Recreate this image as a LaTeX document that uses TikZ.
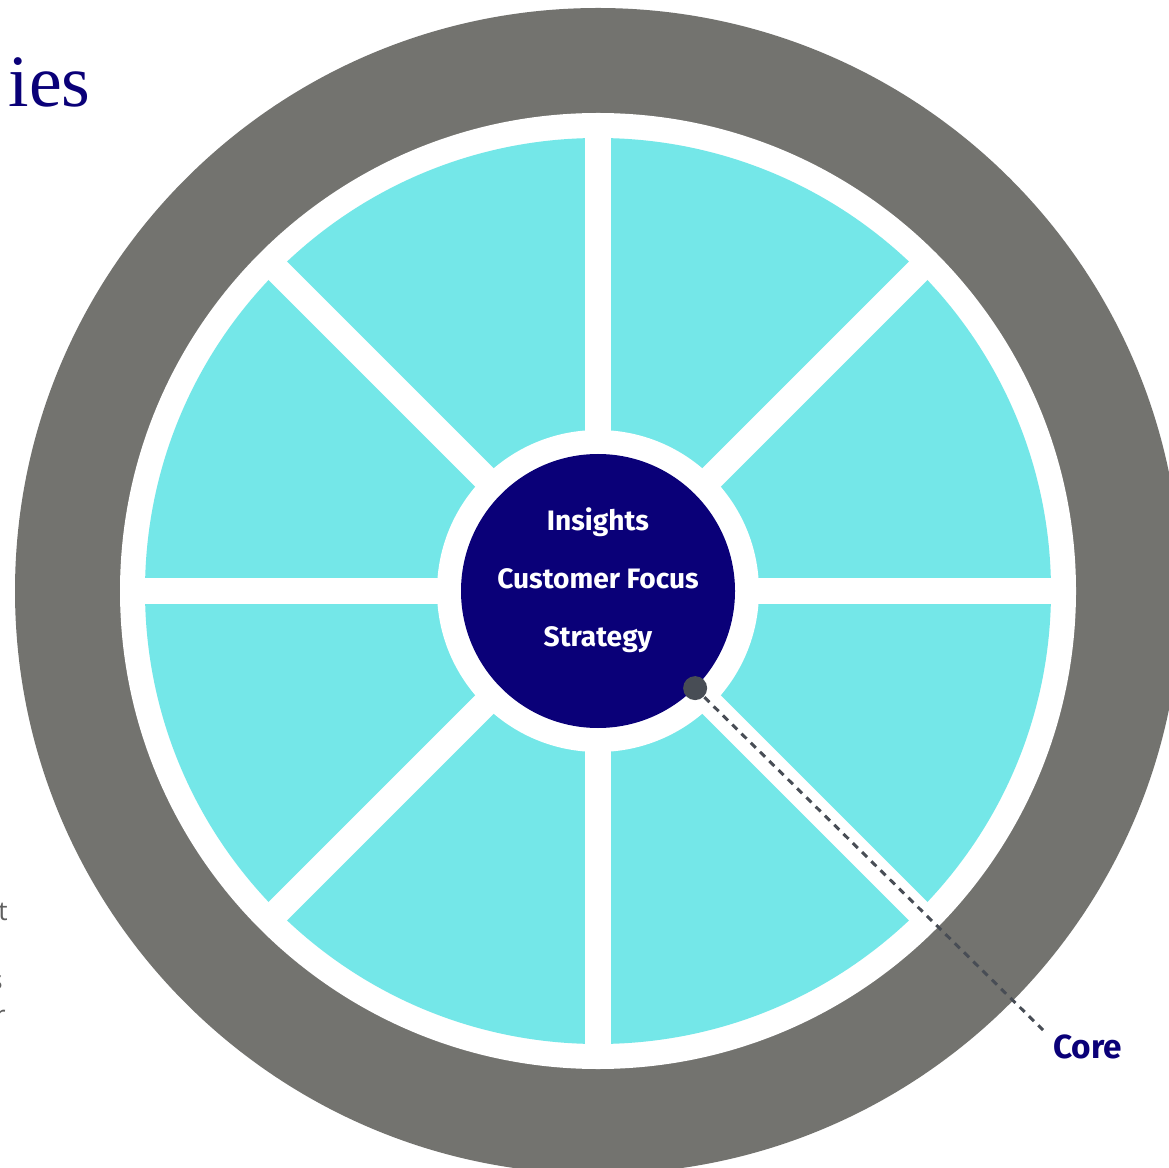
\documentclass[tikz,border=0pt]{standalone}
\usepackage{fontspec}
\setmainfont{Liberation Serif}
\newfontfamily\wheelsans{Fira Sans}
\newfontfamily\notesans{Open Sans}
\usetikzlibrary{positioning}
\definecolor{wheelgrey}{RGB}{115,115,111}
\definecolor{wheelcyan}{RGB}{116,231,232}
\definecolor{wheelnavy}{RGB}{10,0,120}
\definecolor{wheeldot}{RGB}{72,77,85}
\definecolor{notegrey}{RGB}{95,95,95}
\tikzstyle{spoke} = [white, line width=26*0.02cm]
\tikzstyle{corelink} = [wheeldot, dashed, line width=1.7pt, dash pattern=on 4pt off 3.4pt]
\tikzstyle{note} = [notegrey, font=\notesans\fontsize{15}{18}\selectfont, anchor=east, inner sep=0pt]

\begin{document}
\begin{tikzpicture}[x=0.02cm, y=0.02cm]
\useasboundingbox (0,0) rectangle (1169,-1168);
\clip (0,0) rectangle (1169,-1168);
\fill[white] (0,0) rectangle (1169,-1168);

% Outer ring and segments
\coordinate (hub) at (598,-591);
\fill[wheelgrey] (hub) circle (583);
\fill[white] (hub) circle (478);
\fill[wheelcyan] (hub) circle (453);
\foreach \a in {0,45,...,315}
  \draw[spoke] (hub) -- ++(\a:470);
\fill[white] (hub) circle (161);

% Core
\node (core) [circle, fill=wheelnavy, minimum size=274*0.02cm, inner sep=0pt] at (hub) {};
\node (coretext) [white, align=center, font=\wheelsans\bfseries\fontsize{16}{33}\selectfont] at (598,-580) {Insights\\Customer Focus\\Strategy};
\node (corelabel) [wheelnavy, font=\wheelsans\bfseries\fontsize{19}{22}\selectfont, anchor=west, inner sep=0pt] at (1053,-1047) {Core};
\coordinate (linkend) at (1043,-1030);
\draw[corelink] (core.-45) -- (linkend);
\fill[wheeldot] (core.-45) circle (12);

% Cut-off texts
\node (title) [wheelnavy, font=\fontsize{42}{48}\selectfont, anchor=base east, inner sep=0pt] at (91,-107) {ies};
\node (notet) [note] at (8,-912) {t};
\node (notes) [note] at (3,-982) {s};
\node (noter) [note] at (6,-1017) {r};
\end{tikzpicture}
\end{document}
